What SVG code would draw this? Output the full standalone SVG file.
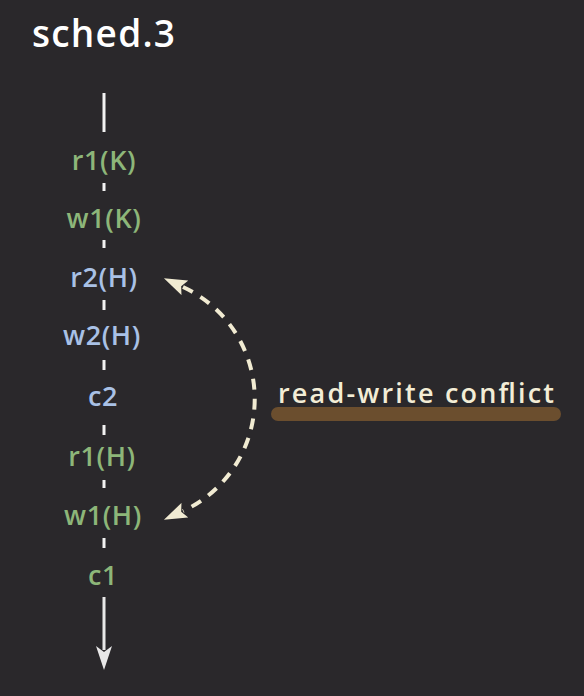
<svg xmlns="http://www.w3.org/2000/svg" width="584" height="696" viewBox="0 0 584 696">
<style>
.lbl{font-family:"Open Sans","Noto Sans",sans-serif;font-size:27px;font-weight:600;text-anchor:middle;letter-spacing:0.6px}
.g{fill:#8db679}
.b{fill:#a9c1e6}
.tick{stroke:#f2f2f2;stroke-width:3}
</style>
<defs>
<marker id="ah" viewBox="0 0 23 16" refX="2" refY="8" markerWidth="23" markerHeight="16" markerUnits="userSpaceOnUse" orient="auto-start-reverse">
<path d="M0,0 L23,8 L0,16 L4,8 Z" fill="#f1ebd2"/>
</marker>
<marker id="dn" viewBox="0 0 24 16" refX="4" refY="8" markerWidth="24" markerHeight="16" markerUnits="userSpaceOnUse" orient="auto">
<path d="M0,0 L24,8 L0,16 L6,8 Z" fill="#e8e8e8"/>
</marker>
</defs>
<rect width="584" height="696" fill="#2a282b"/>
<text x="32" y="47" font-family="Open Sans,Noto Sans,sans-serif" font-size="37" font-weight="600" fill="#ffffff" textLength="143" lengthAdjust="spacing">sched.3</text>
<g id="connectors">
<line class="tick" x1="104" y1="93" x2="104" y2="132"/>
<line class="tick" x1="104" y1="183" x2="104" y2="191"/>
<line class="tick" x1="104" y1="240" x2="104" y2="248"/>
<line class="tick" x1="104" y1="300" x2="104" y2="310"/>
<line class="tick" x1="104" y1="360" x2="104" y2="370"/>
<line class="tick" x1="104" y1="425" x2="104" y2="435"/>
<line class="tick" x1="104" y1="480" x2="104" y2="488"/>
<line class="tick" x1="104" y1="538" x2="104" y2="548"/>
<line x1="104" y1="597" x2="104" y2="650" stroke="#e8e8e8" stroke-width="3" marker-end="url(#dn)"/>
<path d="M183,287 A123.3,123.3 0 0 1 183,511" fill="none" stroke="#f1ebd2" stroke-width="4" stroke-dasharray="11,9" marker-start="url(#ah)" marker-end="url(#ah)"/>
</g>
<g id="n-r1K"><text class="lbl g" x="104" y="170">r1(K)</text></g>
<g id="n-w1K"><text class="lbl g" x="104" y="228">w1(K)</text></g>
<g id="n-r2H"><text class="lbl b" x="104" y="287">r2(H)</text></g>
<g id="n-w2H"><text class="lbl b" x="102" y="345">w2(H)</text></g>
<g id="n-c2"><text class="lbl b" x="103" y="406">c2</text></g>
<g id="n-r1H"><text class="lbl g" x="102" y="466">r1(H)</text></g>
<g id="n-w1H"><text class="lbl g" x="103" y="525">w1(H)</text></g>
<g id="n-c1"><text class="lbl g" x="103" y="585">c1</text></g>
<g id="note">
<rect x="271" y="407" width="290" height="14" rx="7" fill="#6b4e2e"/>
<text x="278" y="403" font-family="Open Sans,Noto Sans,sans-serif" font-size="27" font-weight="600" fill="#f3edd6" textLength="276" lengthAdjust="spacing">read-write conflict</text>
</g>
</svg>
